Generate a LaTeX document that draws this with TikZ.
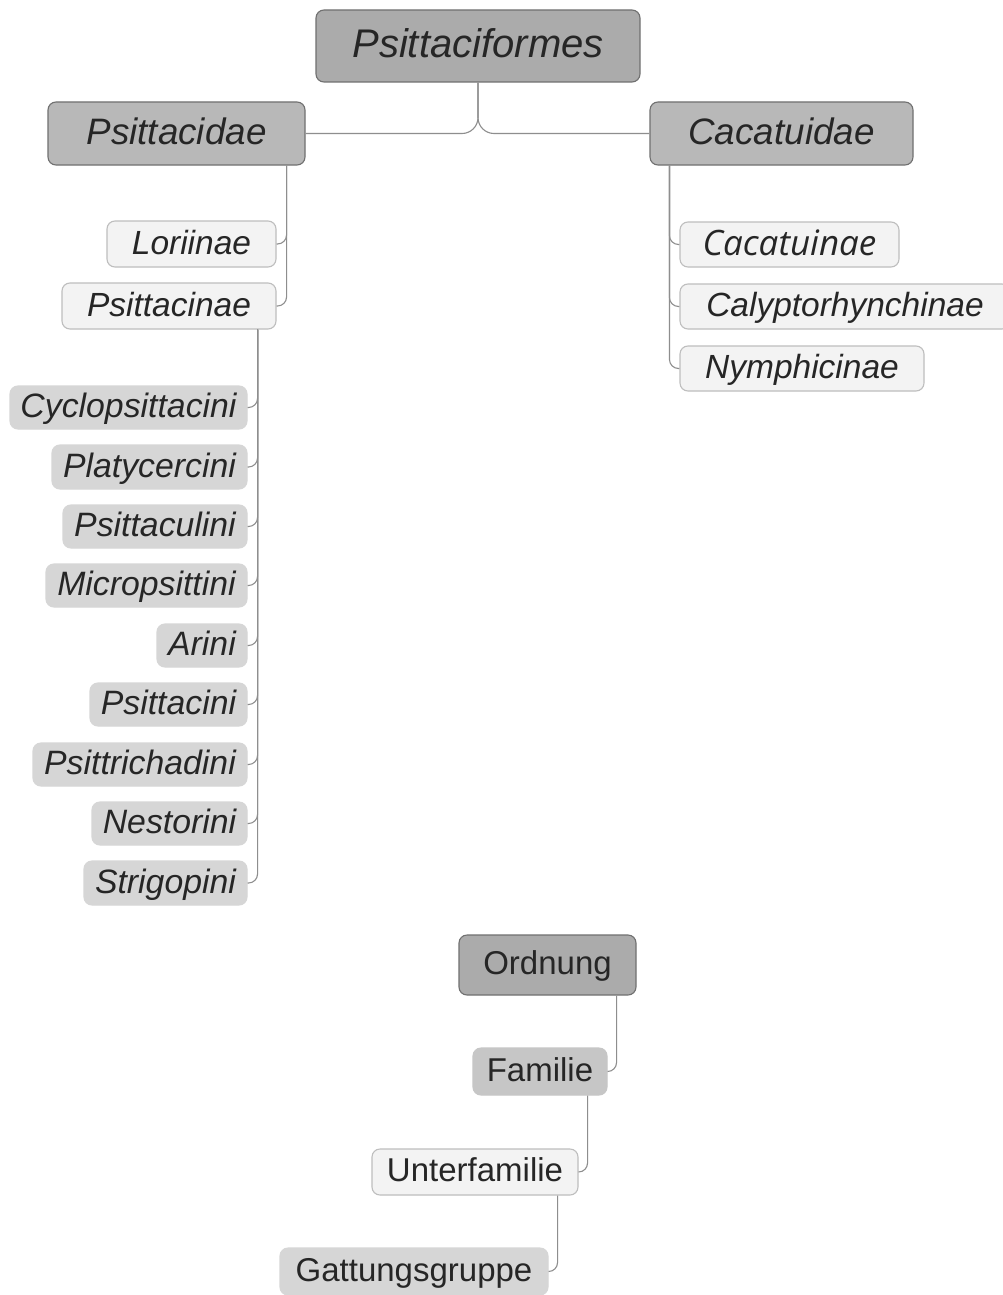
\documentclass[tikz,border=0pt]{standalone}
\usepackage{fontspec}
\setmainfont{Liberation Sans}
\newfontfamily\altfont{Open Sans}
\usetikzlibrary{calc}
\definecolor{rootfill}{HTML}{ABABAB}
\definecolor{famfill}{HTML}{B8B8B8}
\definecolor{lfamfill}{HTML}{C6C6C6}
\definecolor{subfill}{HTML}{F3F3F3}
\definecolor{tribefill}{HTML}{D6D6D6}
\definecolor{darkborder}{HTML}{707070}
\definecolor{lightborder}{HTML}{BEBEBE}
\definecolor{linecol}{HTML}{8E8E8E}
\definecolor{txt}{HTML}{262626}
\tikzset{
  box/.style={rectangle, rounded corners=8pt, inner sep=0pt, text=txt, line width=1.1pt},
  rootbox/.style={box, fill=rootfill, draw=darkborder, font=\fontsize{40}{48}\selectfont\itshape,
    text height=32pt, text depth=8pt},
  fambox/.style={box, fill=famfill, draw=darkborder, font=\fontsize{36.8}{44}\selectfont\itshape,
    text height=29.4pt, text depth=7.4pt},
  subbox/.style={box, fill=subfill, draw=lightborder, font=\fontsize{33.5}{40}\selectfont\itshape,
    text height=26.8pt, text depth=6.7pt},
  tribebox/.style={box, fill=tribefill, draw=tribefill, font=\fontsize{33.8}{40}\selectfont\itshape,
    text height=27pt, text depth=6.8pt},
  legbox/.style={box, font=\fontsize{33}{40}\selectfont, text height=26.4pt, text depth=6.6pt},
  conn/.style={draw=linecol, line width=1.1pt, rounded corners=9pt},
}
\begin{document}
\begin{tikzpicture}[x=1pt,y=-1pt]
\useasboundingbox (0,0) rectangle (1003,1295);
\clip (0,0) rectangle (1003,1295);
\fill[white] (0,0) rectangle (1003,1295);

% top levels
\node[rootbox, minimum width=324pt, minimum height=72pt] (root) at (478,46) {Psittaciformes};
\node[fambox, minimum width=257pt, minimum height=63pt] (psd) at (176.5,133.5) {Psittacidae};
\node[fambox, minimum width=263pt, minimum height=63pt] (cac) at (781.5,133.5) {Cacatuidae};

% subfamilies
\node[subbox, minimum width=169pt, minimum height=46pt] (lor) at (191.5,244) {Loriinae};
\node[subbox, minimum width=214pt, minimum height=46pt] (psn) at (169,306) {Psittacinae};
\node[subbox, minimum width=219pt, minimum height=45pt, font=\fontsize{35}{42}\selectfont\altfont\itshape,
  text height=28pt, text depth=7pt] (cai) at (789.5,244.5) {Cacatuinae};
\node[subbox, minimum width=330pt, minimum height=45pt] (cal) at (845,306.5) {Calyptorhynchinae};
\node[subbox, minimum width=244pt, minimum height=45pt] (nym) at (802,368.5) {Nymphicinae};

% tribes
\node[tribebox, minimum width=237pt, minimum height=43pt] (t1) at (128.5,407.5) {Cyclopsittacini};
\node[tribebox, minimum width=195pt, minimum height=44pt] (t2) at (149.5,467) {Platycercini};
\node[tribebox, minimum width=184pt, minimum height=43pt] (t3) at (155,526.5) {Psittaculini};
\node[tribebox, minimum width=201pt, minimum height=43pt] (t4) at (146.5,585.5) {Micropsittini};
\node[tribebox, minimum width=90pt, minimum height=43pt] (t5) at (202,645.5) {Arini};
\node[tribebox, minimum width=157pt, minimum height=43pt] (t6) at (168.5,704.5) {Psittacini};
\node[tribebox, minimum width=214pt, minimum height=43pt] (t7) at (140,764.5) {Psittrichadini};
\node[tribebox, minimum width=155pt, minimum height=43pt] (t8) at (169.5,823.5) {Nestorini};
\node[tribebox, minimum width=163pt, minimum height=44pt] (t9) at (165.5,883) {Strigopini};

% legend
\node[legbox, fill=rootfill, draw=darkborder, minimum width=177pt, minimum height=60pt] (ord) at (547.5,965) {Ordnung};
\node[legbox, fill=lfamfill, draw=lfamfill, minimum width=134pt, minimum height=47pt] (fam) at (540,1071.5) {Familie};
\node[legbox, fill=subfill, draw=lightborder, minimum width=206pt, minimum height=46pt] (ufam) at (475,1172) {Unterfamilie};
\node[legbox, fill=tribefill, draw=tribefill, minimum width=268pt, minimum height=47pt] (gat) at (414,1271.5) {Gattungsgruppe};

% connectors
\draw[conn, rounded corners=16pt] (root.south) |- (psd.east);
\draw[conn, rounded corners=16pt] (root.south) |- (cac.west);

\draw[conn] ($(psd.south east)+(-19,0)$) |- (lor.east);
\draw[conn] ($(psd.south east)+(-19,0)$) |- (psn.east);

\draw[conn] ($(cac.south west)+(20,0)$) |- (cai.west);
\draw[conn] ($(cac.south west)+(20,0)$) |- (cal.west);
\draw[conn] ($(cac.south west)+(20,0)$) |- (nym.west);

\foreach \t in {t1,t2,t3,t4,t5,t6,t7,t8,t9}
  \draw[conn] ($(psn.south east)+(-19,0)$) |- (\t.east);

\draw[conn] ($(ord.south east)+(-20,0)$) |- (fam.east);
\draw[conn] ($(fam.south east)+(-20,0)$) |- (ufam.east);
\draw[conn] ($(ufam.south east)+(-21,0)$) |- (gat.east);
\end{tikzpicture}
\end{document}
